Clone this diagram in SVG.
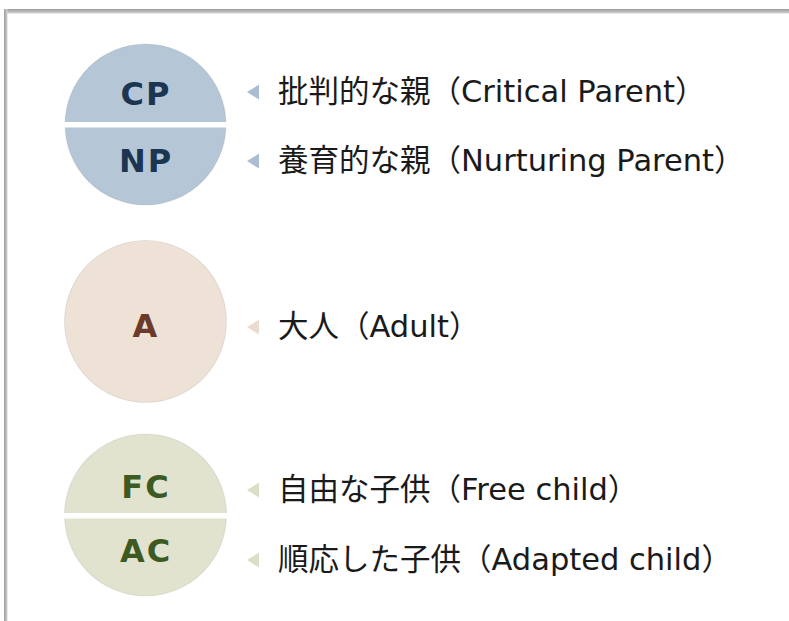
<svg xmlns="http://www.w3.org/2000/svg" width="789" height="621" viewBox="0 0 789 621">
  <defs>
    <style>
      .lbl { font-family: "DejaVu Sans", "Noto Sans CJK JP", sans-serif; font-size: 30.5px; fill: #1a1a1a; }
      .code { font-family: "DejaVu Sans", "Verdana", sans-serif; font-weight: bold; font-size: 32px; letter-spacing: 2px; text-anchor: middle; }
      .rim { stroke: #000; stroke-opacity: 0.07; stroke-width: 1.2; }
    </style>
    <linearGradient id="topEdge" x1="0" y1="0" x2="0" y2="1">
      <stop offset="0" stop-color="#9c9c9c"/>
      <stop offset="1" stop-color="#d4d4d4"/>
    </linearGradient>
    <linearGradient id="leftEdge" x1="0" y1="0" x2="1" y2="0">
      <stop offset="0" stop-color="#9c9c9c"/>
      <stop offset="1" stop-color="#d4d4d4"/>
    </linearGradient>
  </defs>

  <rect width="789" height="621" fill="#ffffff"/>

  <!-- frame -->
  <g id="frame">
    <rect x="4" y="9" width="785" height="4.5" fill="url(#topEdge)"/>
    <rect x="4" y="9" width="3.5" height="612" fill="url(#leftEdge)"/>
  </g>

  <!-- Parent node -->
  <g id="node-parent">
    <circle cx="145.5" cy="124.5" r="80.5" fill="#b5c7d7" class="rim"/>
    <rect x="64" y="122" width="163" height="5.5" fill="#ffffff"/>
    <text x="146" y="105" class="code" fill="#1c3651">CP</text>
    <text x="146" y="172" class="code" fill="#1c3651">NP</text>
  </g>

  <!-- Adult node -->
  <g id="node-adult">
    <circle cx="145.5" cy="321.5" r="81" fill="#eee1d6" class="rim"/>
    <text x="146" y="337" class="code" fill="#6a3a2b">A</text>
  </g>

  <!-- Child node -->
  <g id="node-child">
    <circle cx="145.5" cy="515" r="81" fill="#e2e3cf" class="rim"/>
    <rect x="64" y="513" width="163" height="5.5" fill="#ffffff"/>
    <text x="146" y="498" class="code" fill="#3d5a22">FC</text>
    <text x="146" y="562" class="code" fill="#3d5a22">AC</text>
  </g>

  <!-- pointers -->
  <g id="connectors">
    <polygon points="247,92 259,84.5 259,99.5" fill="#a9bed2"/>
    <polygon points="247,161 259,153.5 259,168.5" fill="#a9bed2"/>
    <polygon points="247,327 259,319.5 259,334.5" fill="#eadccf"/>
    <polygon points="247,490 259,482.5 259,497.5" fill="#dddec7"/>
    <polygon points="247,560 259,552.5 259,567.5" fill="#dddec7"/>
  </g>

  <!-- labels -->
  <g id="labels">
    <text x="278" y="102" class="lbl">批判的な親（Critical Parent）</text>
    <text x="278" y="171" class="lbl">養育的な親（Nurturing Parent）</text>
    <text x="278" y="337" class="lbl">大人（Adult）</text>
    <text x="278" y="500" class="lbl">自由な子供（Free child）</text>
    <text x="278" y="570" class="lbl">順応した子供（Adapted child）</text>
  </g>
</svg>
